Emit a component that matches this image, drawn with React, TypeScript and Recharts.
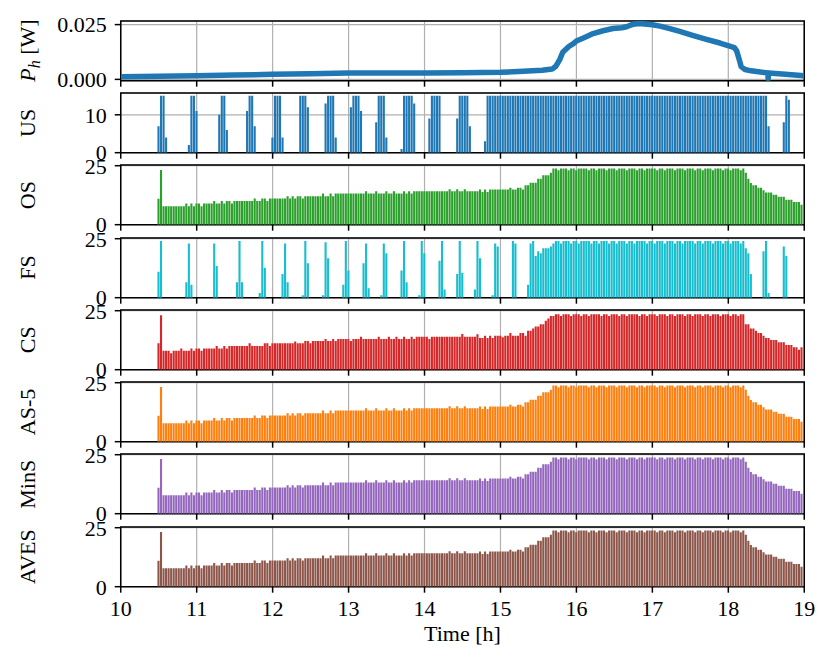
import { ComposedChart, Bar, Line, XAxis, YAxis, CartesianGrid, ReferenceArea } from 'recharts'

// hour ticks on the shared time axis
const HOURS = [10, 11, 12, 13, 14, 15, 16, 17, 18, 19]

// P_h line
const PH_TIME = [10.0, 10.5, 11.0, 11.5, 12.0, 12.5, 13.0, 13.5, 14.0, 14.5, 15.0, 15.3, 15.55, 15.68, 15.73, 15.78, 15.82, 15.9, 15.96, 16.0, 16.1, 16.22, 16.35, 16.48, 16.6, 16.66, 16.75, 16.83, 16.9, 17.0, 17.1, 17.23, 17.35, 17.53, 17.7, 17.89, 18.08, 18.11, 18.14, 18.17, 18.22, 18.3, 18.52, 18.525, 18.53, 18.75, 19.0]
const PH_WATT = [0.0012, 0.0014, 0.0017, 0.002, 0.0023, 0.0026, 0.0029, 0.0029, 0.0029, 0.003, 0.0032, 0.0037, 0.0042, 0.0047, 0.006, 0.009, 0.0124, 0.015, 0.0163, 0.0175, 0.019, 0.0209, 0.0222, 0.0232, 0.0236, 0.024, 0.0252, 0.0255, 0.0253, 0.0249, 0.0243, 0.0232, 0.022, 0.0201, 0.0184, 0.0166, 0.0145, 0.013, 0.0095, 0.0058, 0.0045, 0.0039, 0.0029, 0.0003, 0.0029, 0.0023, 0.0017]

// bars every 2 minutes from 10:30, one row per hour
const US = [
  7, 15, 15, 4, 0, 0, 0, 0, 0, 0, 0, 0, 2, 15, 15, 11, 0, 0, 0, 0, 0, 0, 0, 0, 10, 15, 15, 6, 0, 0,
  0, 0, 0, 0, 0, 11, 15, 15, 7, 0, 0, 0, 0, 0, 0, 4, 15, 15, 15, 4, 0, 0, 0, 0, 0, 0, 15, 15, 15, 12,
  0, 0, 0, 0, 0, 0, 13, 15, 15, 15, 4, 0, 0, 0, 0, 0, 12, 15, 15, 15, 11, 0, 0, 0, 0, 0, 8, 15, 15, 15,
  4, 0, 0, 0, 0, 0, 1, 15, 15, 15, 15, 13, 0, 0, 0, 0, 0, 9, 15, 15, 15, 15, 0, 0, 0, 0, 0, 0, 9, 15,
  15, 15, 15, 7, 0, 0, 0, 0, 0, 3, 15, 15, 15, 15, 15, 15, 15, 15, 15, 15, 15, 15, 15, 15, 15, 15, 15, 15, 15, 15,
  15, 15, 15, 15, 15, 15, 15, 15, 15, 15, 15, 15, 15, 15, 15, 15, 15, 15, 15, 15, 15, 15, 15, 15, 15, 15, 15, 15, 15, 15,
  15, 15, 15, 15, 15, 15, 15, 15, 15, 15, 15, 15, 15, 15, 15, 15, 15, 15, 15, 15, 15, 15, 15, 15, 15, 15, 15, 15, 15, 15,
  15, 15, 15, 15, 15, 15, 15, 15, 15, 15, 15, 15, 15, 15, 15, 15, 15, 15, 15, 15, 15, 15, 15, 15, 15, 15, 15, 15, 15, 15,
  15, 7, 0, 0, 0, 0, 0, 8, 15, 14, 0, 0, 0, 0, 0,
]

const OS = [
  11, 23.2, 7.8, 7.8, 7.8, 7.8, 7.8, 7.8, 7.8, 7.8, 7.8, 9, 7.8, 9, 7.8, 9, 9, 7.8, 9, 9, 9, 9, 10, 9, 9, 10, 9, 10, 10, 9,
  10, 10, 10, 10, 10, 10, 10, 10, 11.1, 10, 10, 11.1, 11.1, 10, 11.1, 11.1, 11.1, 11.1, 11.1, 11.1, 11.1, 12.1, 11.1, 12.1, 11.1, 12.1, 12.1, 11.1, 12.1, 12.1,
  12.1, 12.1, 12.1, 12.1, 12.1, 13.2, 12.1, 12.1, 13.2, 12.1, 13.2, 13.2, 13.2, 13.2, 13.2, 13.2, 13.2, 13.2, 13.2, 13.2, 13.2, 13.2, 14.2, 13.2, 13.2, 13.2, 14.2, 13.2, 13.2, 13.2,
  14.2, 13.2, 13.2, 14.2, 13.2, 13.2, 13.2, 14.2, 13.2, 14.2, 13.2, 14.2, 14.2, 14.2, 14.2, 14.2, 14.2, 14.2, 14.2, 14.2, 14.2, 14.2, 14.2, 14.2, 14.2, 15, 14.2, 14.2, 15, 14.2,
  14.2, 15, 14.2, 14.2, 14.2, 14.2, 14.2, 14.9, 13.9, 14.9, 13.9, 14.9, 14.9, 14.9, 14.9, 14.9, 14.9, 14.9, 14.9, 15.7, 14.9, 14.9, 15.7, 15.7, 14.9, 16.7, 16.7, 17.8, 17.8, 17.8,
  19.5, 19.5, 21, 21, 21, 22, 23.8, 23.8, 23.1, 23.8, 23.8, 23.8, 23.1, 23.8, 23.8, 23.1, 23.8, 23.8, 23.8, 23.8, 23.1, 23.8, 23.8, 23.1, 23.8, 23.8, 23.8, 23.1, 23.8, 23.8,
  23.8, 23.1, 23.8, 23.8, 23.8, 23.1, 23.8, 23.8, 23.8, 23.1, 23.8, 23.8, 23.1, 23.8, 23.8, 23.8, 23.8, 23.1, 23.8, 23.8, 23.1, 23.8, 23.8, 23.8, 23.1, 23.8, 23.8, 23.8, 23.1, 23.8,
  23.8, 23.8, 23.1, 23.8, 23.8, 23.1, 23.8, 23.8, 23.8, 23.1, 23.8, 23.8, 23.8, 23.1, 23.8, 23.8, 23.1, 23.8, 23.8, 23.8, 23.1, 23.8, 22, 19.5, 17.7, 16.7, 16.7, 15.7, 15.7, 14.6,
  13.6, 13.6, 13.6, 12.7, 12.7, 11.8, 11.8, 11.8, 10.6, 10.6, 10.6, 9.6, 9.6, 9.6, 8.5,
]

const FS = [
  11, 24, 0, 0, 0, 0, 0, 0, 0, 0, 0, 6.5, 23, 5.5, 0, 0, 0, 0, 0, 0, 0, 0, 23, 13.4, 0, 0, 0, 0, 0, 0,
  0, 6.5, 24, 6.5, 0, 0, 0, 0, 0, 0, 2, 24, 12.7, 0, 0, 0, 0, 0, 0, 10, 23, 6.5, 0, 0, 0, 0, 0, 1, 24, 14.6,
  0, 0, 0, 0, 0, 1, 23.5, 16.7, 0, 0, 0, 0, 0, 5.5, 24, 11.5, 0, 0, 0, 0, 0, 14.6, 23, 4, 0, 0, 0, 0, 1, 23,
  18.8, 0, 0, 0, 0, 0, 11.5, 24, 6.5, 0, 0, 0, 0, 1, 24, 18.8, 0, 0, 0, 0, 0, 15.7, 24, 3.5, 0, 0, 0, 0, 10, 24,
  10.6, 0, 0, 0, 0, 3.5, 24, 16.7, 0, 0, 0, 0, 1, 23, 21.7, 0, 0, 0, 0, 0, 24, 23, 0, 0, 0, 0, 5.5, 23, 24, 17.7,
  19.7, 18.8, 21, 21, 21, 21.7, 23, 24, 24, 23, 24, 24, 24, 23, 24, 24, 23, 24, 24, 24, 24, 23, 24, 24, 23, 24, 24, 24, 23, 24,
  24, 23, 24, 24, 24, 23, 24, 24, 23, 24, 24, 24, 24, 23, 24, 24, 23, 24, 24, 24, 23, 24, 24, 24, 23, 24, 24, 23, 24, 24,
  24, 24, 23, 24, 24, 23, 24, 24, 24, 23, 24, 24, 24, 23, 24, 24, 23, 24, 24, 24, 23, 24, 21, 18.8, 10, 0, 0, 0, 0, 19.7,
  24, 2, 0, 0, 0, 0, 0, 21.7, 17.7, 0, 0, 0, 0, 0, 0,
]

const CS = [
  11.2, 23.1, 8, 8, 8, 7, 8, 8, 8, 9, 8, 8, 8, 9, 8, 9, 9, 8, 9, 9, 9, 9, 9, 10, 9, 9, 10, 9, 10, 10,
  10, 10, 10, 10, 10, 10, 11.2, 10, 10, 10, 10, 10, 11.2, 11.2, 10, 11.2, 11.2, 11.2, 11.2, 11.2, 11.2, 11.2, 11.2, 11.2, 11.9, 11.2, 11.2, 11.2, 12.2, 12.2,
  11.2, 12.2, 12.2, 12.2, 12.2, 12.2, 13, 12.2, 12.2, 13, 12.2, 13, 13, 13, 13, 13, 12.2, 13, 13, 13, 14, 13, 13, 13, 13, 13, 13, 14, 13, 13,
  13, 14, 13, 13, 14, 13, 13, 14, 13, 13, 14, 13, 14, 14, 14, 14, 14, 13, 14, 14, 14, 14, 14, 14, 14, 14, 14, 14, 14, 14,
  15.1, 14, 14, 14, 14, 14, 15, 13.4, 13.4, 14.4, 13.4, 14.4, 13.4, 14.4, 14.4, 14.4, 13.8, 14.4, 14.4, 15.5, 14.4, 14.4, 14.4, 15.5, 15.5, 14.4, 16.5, 16.5, 17.5, 18.3,
  18.3, 19.3, 19.3, 20.7, 21.7, 22.8, 22.8, 23.5, 23.5, 22.8, 23.5, 23.5, 23.5, 22.8, 23.5, 23.5, 23.5, 22.8, 23.5, 23.5, 22.8, 23.5, 23.5, 23.5, 23.5, 22.8, 23.5, 23.5, 22.8, 23.5,
  23.5, 23.5, 22.8, 23.5, 23.5, 22.8, 23.5, 23.5, 23.5, 23.5, 22.8, 23.5, 23.5, 22.8, 23.5, 23.5, 23.5, 22.8, 23.5, 23.5, 23.5, 22.8, 23.5, 23.5, 22.8, 23.5, 23.5, 23.5, 22.8, 23.5,
  23.5, 22.8, 23.5, 23.5, 23.5, 22.8, 23.5, 23.5, 22.8, 23.5, 23.5, 23.5, 22.8, 23.5, 23.5, 23.5, 22.8, 23.5, 23.5, 22.8, 23.5, 23.5, 19.3, 19.3, 17.5, 17.5, 16.5, 15.5, 15.5, 14.4,
  13.4, 13.4, 12.6, 12.6, 12.6, 11.6, 11.6, 11.6, 10.5, 10.5, 10.5, 9.5, 9.5, 8.4, 9.5,
]

// AS-5, MinS and AVES draw the same bars as OS in the figure
const AS5 = OS
const MINS = OS
const AVES = OS

const rows = OS.map((_, i) => ({
  t: 10.5 + i / 30,
  us: US[i],
  os: OS[i],
  fs: FS[i],
  cs: CS[i],
  as5: AS5[i],
  mins: MINS[i],
  aves: AVES[i],
}))

const phRows = PH_TIME.map((t, i) => ({ t, w: PH_WATT[i] }))

const W = 831
const PLOT_LEFT = 120.7
const PLOT_RIGHT = 804.3
const Y_AXIS_W = 60
const PANEL_H = 59.7
const PITCH = 72.29
const FIRST_TOP = 20.7
const PAD_TOP = 14
const FONT = '"Liberation Serif", "DejaVu Serif", serif'
const TICK_STYLE = { fill: '#000', fontSize: 22, fontFamily: FONT }

const panels = [
  { key: 'us', label: 'US', color: '#1f77b4', yMax: 15.75, yTicks: [0, 10] },
  { key: 'os', label: 'OS', color: '#2ca02c', yMax: 25.3, yTicks: [0, 25] },
  { key: 'fs', label: 'FS', color: '#17becf', yMax: 25.3, yTicks: [0, 25] },
  { key: 'cs', label: 'CS', color: '#d62728', yMax: 25.3, yTicks: [0, 25] },
  { key: 'as5', label: 'AS-5', color: '#ff7f0e', yMax: 25.3, yTicks: [0, 25] },
  { key: 'mins', label: 'MinS', color: '#9467bd', yMax: 25.3, yTicks: [0, 25] },
  { key: 'aves', label: 'AVES', color: '#8c564b', yMax: 25.3, yTicks: [0, 25] },
]

const noLabel = () => ''

function Panel({ index, children, yMin, yMax, yTicks, yFormat, data, last }: any) {
  const xh = last ? 40 : 16
  const top = FIRST_TOP + PITCH * index - PAD_TOP
  return (
    <div style={{ position: 'absolute', left: 0, top }}>
      <ComposedChart
        width={W}
        height={PAD_TOP + PANEL_H + xh}
        data={data}
        margin={{ top: PAD_TOP, right: W - PLOT_RIGHT, bottom: 0, left: PLOT_LEFT - Y_AXIS_W }}
      >
        <CartesianGrid stroke="#b0b0b0" strokeWidth={1.2} />
        <XAxis
          dataKey="t"
          type="number"
          domain={[10, 19]}
          ticks={HOURS}
          interval={0}
          allowDataOverflow
          axisLine={false}
          tickLine={{ stroke: '#000', strokeWidth: 1.5 }}
          tickSize={6}
          tickMargin={8}
          height={xh}
          tick={TICK_STYLE}
          tickFormatter={last ? (v: number) => String(v) : noLabel}
        />
        <YAxis
          type="number"
          domain={[yMin, yMax]}
          ticks={yTicks}
          interval={0}
          allowDataOverflow
          width={Y_AXIS_W}
          axisLine={false}
          tickLine={{ stroke: '#000', strokeWidth: 1.5 }}
          tickSize={6}
          tickMargin={8}
          tick={TICK_STYLE}
          tickFormatter={yFormat}
        />
        {children}
        <ReferenceArea
          x1={10}
          x2={19}
          y1={yMin}
          y2={yMax}
          fill="none"
          fillOpacity={0}
          stroke="#000"
          strokeWidth={1.5}
          ifOverflow="visible"
        />
      </ComposedChart>
    </div>
  )
}

export default function App() {
  const labelCy = (k: number) => FIRST_TOP + PITCH * k + PANEL_H / 2
  return (
    <div style={{ position: 'absolute', left: 0, top: 0, width: W, height: 669, background: '#fff' }}>
      <Panel index={0} data={phRows} yMin={-0.0006} yMax={0.02665} yTicks={[0, 0.025]} yFormat={(v: number) => v.toFixed(3)}>
        <Line
          dataKey="w"
          type="linear"
          stroke="#1f77b4"
          strokeWidth={5.5}
          strokeLinejoin="round"
          dot={false}
          isAnimationActive={false}
        />
      </Panel>
      {panels.map((p, k) => (
        <Panel
          key={p.key}
          index={k + 1}
          data={rows}
          yMin={0}
          yMax={p.yMax}
          yTicks={p.yTicks}
          yFormat={(v: number) => String(v)}
          last={k === panels.length - 1}
        >
          <Bar dataKey={p.key} fill={p.color} barSize={2.1} isAnimationActive={false} />
        </Panel>
      ))}
      <svg width={W} height={669} style={{ position: 'absolute', left: 0, top: 0, pointerEvents: 'none' }}>
        <text
          x={35}
          y={labelCy(0)}
          transform={`rotate(-90 35 ${labelCy(0)})`}
          textAnchor="middle"
          fontSize={22}
          fontFamily={FONT}
          fill="#000"
        >
          <tspan fontStyle="italic">P</tspan>
          <tspan fontStyle="italic" fontSize={16} dy={5}>h</tspan>
          <tspan dy={-5}>{'\u00a0[W]'}</tspan>
        </text>
        {panels.map((p, k) => (
          <text
            key={p.key}
            x={35}
            y={labelCy(k + 1)}
            transform={`rotate(-90 35 ${labelCy(k + 1)})`}
            textAnchor="middle"
            fontSize={22}
            fontFamily={FONT}
            fill="#000"
          >
            {p.label}
          </text>
        ))}
        <text x={462.5} y={641} textAnchor="middle" fontSize={22} fontFamily={FONT} fill="#000">
          Time [h]
        </text>
      </svg>
    </div>
  )
}
